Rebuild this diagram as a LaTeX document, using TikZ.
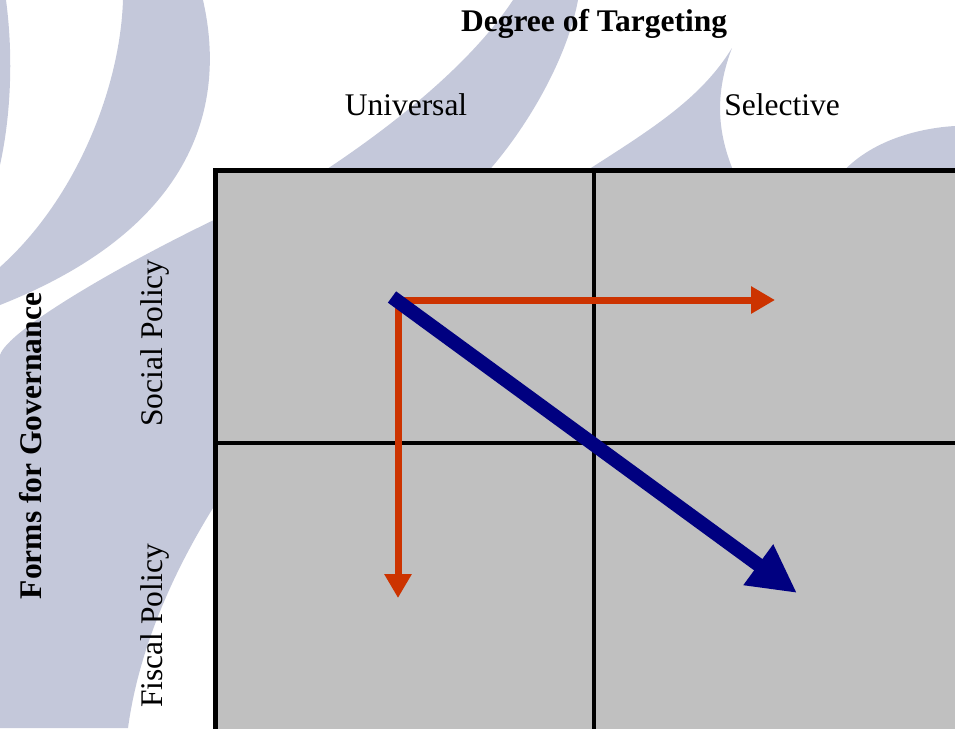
\documentclass[tikz,border=0pt]{standalone}
\usepackage{fontspec}
\setmainfont{Liberation Serif}
\usetikzlibrary{arrows.meta}
\definecolor{swoosh}{HTML}{C4C8DA}
\definecolor{cellgray}{HTML}{C0C0C0}
\definecolor{shiftred}{HTML}{CC3300}
\definecolor{shiftblue}{HTML}{000080}
\begin{document}
\begin{tikzpicture}[x=1pt,y=-1pt,
    lbl/.style={inner sep=0pt,font=\fontsize{31.5}{36}\selectfont},
    hdr/.style={inner sep=0pt,font=\fontsize{31.5}{36}\selectfont\bfseries}]
    \useasboundingbox (0,0) rectangle (955,728);
    \clip (0,0) rectangle (955,728);
    % watermark in the back
    \begin{scope}[swoosh]
      \fill (0,0) -- (6,0) .. controls (14,60) and (10,120) .. (0,165) -- cycle;
      \fill (123,0) -- (203,0) .. controls (228,110) and (190,230) .. (0,305)
        -- (0,267) .. controls (75,200) and (120,90) .. (123,0);
      \fill (0,355) .. controls (8,330) and (120,265) .. (218,218) -- (218,500)
        .. controls (180,560) and (140,640) .. (128,728) -- (0,728) -- cycle;
      \fill (513,0) -- (578,0) .. controls (568,55) and (530,125) .. (485,175)
        -- (318,175) .. controls (390,128) and (470,65) .. (513,0);
      \fill (732,48) .. controls (712,100) and (720,140) .. (735,175)
        -- (580,175) .. controls (650,130) and (700,100) .. (732,48);
      \fill (840,175) .. controls (870,140) and (920,128) .. (955,126) -- (955,175) -- cycle;
    \end{scope}
    % the four cells
    \fill[cellgray] (215.5,170.5) rectangle (960,730);
    \draw[line width=5pt] (960,170.5) -- (215.5,170.5) -- (215.5,730);
    \draw[line width=4pt] (594,170) -- (594,730);
    \draw[line width=4pt] (215,443) -- (960,443);
    % labels
    \node[hdr] (target) at (594,24) {Degree of Targeting};
    \node[lbl] (univ) at (406,105) {Universal};
    \node[lbl] (sel) at (782,105) {Selective};
    \node[hdr,rotate=90] (forms) at (31,446) {Forms for Governance};
    \node[lbl,rotate=90] (social) at (155,343) {Social Policy};
    \node[lbl,rotate=90] (fiscal) at (155,626) {Fiscal Policy};
    % shifts
    \coordinate (o) at (398,300);
    \coordinate (rh) at (775,300);
    \coordinate (rv) at (398,598);
    \coordinate (b0) at (392,297);
    \coordinate (b1) at (797,593);
    \begin{scope}[shiftred,line width=7pt,-{Triangle[width=26pt,length=24pt]}]
      \draw (o) -- (rh);
      \draw (o) -- (rv);
    \end{scope}
    \draw[shiftblue,line width=14pt,-{Triangle[width=47pt,length=48pt]}] (b0) -- (b1);
\end{tikzpicture}
\end{document}
